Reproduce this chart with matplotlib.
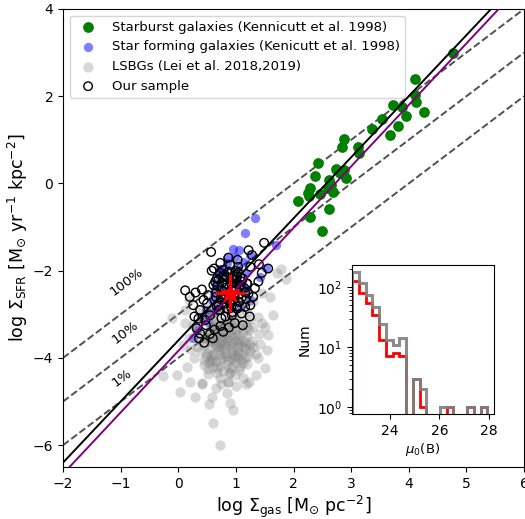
import numpy as np
import matplotlib.pyplot as plt

# --- starburst galaxies (Kennicutt 1998) ---
sb_x = [4.77, 4.11, 4.10, 4.13, 4.26, 3.95, 3.89, 3.73, 3.82, 3.67, 3.53, 3.36,
        2.87, 2.84, 3.12, 3.14, 2.42, 2.73, 2.87, 2.38, 2.91, 2.61, 2.65, 2.28,
        2.26, 2.27, 2.60, 2.68, 2.46, 2.07, 2.61, 2.29, 2.50, 2.80]
sb_y = [2.98, 2.40, 2.03, 1.87, 1.64, 1.55, 1.76, 1.80, 1.32, 1.11, 1.48, 1.24,
        1.01, 0.84, 0.83, 0.69, 0.48, 0.33, 0.32, 0.17, 0.12, 0.08, -0.04, -0.10,
        -0.21, -0.29, -0.11, -0.20, -0.25, -0.41, -0.58, -0.76, -1.10, 0.25]

# --- normal star forming galaxies ---
sf_x = [1.33, 1.15, 1.70, 1.52, 0.99, 1.06, 0.84, 0.73, 0.64, 0.58, 0.58, 0.52,
        0.26, 1.07, 1.25, 1.42, 1.13, 1.25, 0.90, 0.33, 0.95, 1.02, 0.80, 0.70,
        0.88, 1.10, 1.18, 0.62, 0.75, 0.92, 1.00, 0.68, 0.85, 1.20, 0.48, 0.40]
sf_y = [-0.80, -1.13, -1.41, -1.93, -1.68, -1.53, -1.83, -2.10, -2.29, -2.67, -2.98, -3.17,
        -3.55, -2.83, -2.67, -2.14, -1.80, -1.64, -2.29, -3.36, -1.50, -1.95, -2.00, -1.95,
        -2.15, -2.35, -2.05, -2.50, -2.40, -2.60, -2.20, -2.85, -1.70, -2.45, -2.90, -3.05]

# --- LSBGs (Lei et al. 2018, 2019) ---
lsb_x = [0.90, 0.61, 0.73, 0.29, -0.03, 0.20, 0.41, 0.44, 0.52, 0.75, 0.87, 0.89,
         1.23, 1.51, 1.39, 1.54, 1.56, 1.65, 1.78, 1.87, 1.72, 0.19, 0.12, 0.90,
         1.19, 1.04, 0.55, 1.42, 1.30, 1.51, 1.39, -0.26, 0.03, 0.53, 0.12, -0.11,
         0.55, 0.62, 0.70, 0.78, 0.85, 0.92, 1.00, 1.08, 1.15, 1.22,
         0.50, 0.60, 0.68, 0.75, 0.82, 0.90, 0.97, 1.05, 1.12, 1.20,
         0.45, 0.55, 0.65, 0.72, 0.80, 0.88, 0.95, 1.02, 1.10, 1.18,
         0.58, 0.66, 0.74, 0.84, 0.92, 1.00, 1.08, 0.48, 0.38, 0.35,
         0.42, 0.30, 0.62, 0.72, 0.95, 1.05, 1.25, 1.30, 1.28, 1.25,
         1.15, 0.78, 0.68, 0.60, 0.88, 0.98, 0.52, 0.45, 0.40, 0.33,
         0.86, 0.76, 0.94, 0.70, 0.64, 1.00, 1.06, 0.83, 0.56, 0.62,
         0.28, 0.22, 0.18, 0.25, 1.35, 1.40, 1.45, 1.20, 0.80, 0.50,
         0.90, 1.10, 0.70, 1.30, 1.45, 1.60, 0.35, 1.00, 0.15, 0.08,
         0.65, 0.85, 1.12, 0.95, 0.58, 1.35, 0.42, 1.18,
         0.52, 0.58, 0.66, 0.71, 0.77, 0.83, 0.89, 0.94, 1.01, 1.07, 1.13, 1.19,
         0.47, 0.54, 0.61, 0.69, 0.74, 0.81, 0.87, 0.93, 0.99, 1.04, 1.11, 1.16,
         0.50, 0.57, 0.63, 0.70, 0.76, 0.82, 0.91, 0.96, 1.03, 1.09, 1.14, 1.21,
         0.44, 0.53, 0.59, 0.67, 0.73, 0.79, 0.86, 0.93, 0.98, 1.06, 1.13, 1.24,
         0.60, 0.68, 0.75, 0.81, 0.89, 0.96, 1.04, 0.55, 0.72, 0.87]
lsb_y = [-5.04, -5.50, -6.00, -4.89, -4.39, -4.55, -4.57, -4.17, -4.36, -4.59, -4.55, -4.34,
         -4.55, -4.24, -4.01, -3.82, -3.48, -3.02, -1.97, -2.18, -2.06, -2.66, -3.21, -4.24,
         -4.13, -3.97, -4.05, -3.67, -3.75, -3.29, -3.06, -4.42, -4.78, -5.06, -2.90, -3.09,
         -3.00, -3.15, -3.30, -3.20, -3.10, -3.25, -3.15, -3.30, -3.20, -3.35,
         -3.40, -3.50, -3.45, -3.60, -3.50, -3.40, -3.55, -3.45, -3.60, -3.50,
         -3.70, -3.80, -3.75, -3.90, -3.80, -3.70, -3.85, -3.75, -3.90, -3.80,
         -4.00, -4.10, -4.05, -4.15, -4.00, -4.10, -4.20, -3.95, -3.60, -3.30,
         -3.15, -3.45, -2.95, -2.90, -2.95, -3.00, -3.10, -3.30, -3.60, -3.85,
         -4.00, -4.30, -4.35, -4.20, -4.35, -4.40, -4.25, -4.05, -3.85, -3.75,
         -3.30, -3.40, -3.65, -3.65, -3.30, -3.35, -3.65, -3.95, -3.60, -3.90,
         -4.00, -3.80, -3.55, -3.25, -3.90, -3.45, -3.20, -2.95, -2.80, -2.85,
         -2.60, -2.70, -2.60, -2.70, -2.50, -2.60, -2.90, -4.65, -4.20, -3.70,
         -4.70, -4.80, -4.45, -5.20, -4.90, -4.40, -4.60, -4.60,
         -3.05, -3.22, -3.12, -3.38, -3.27, -3.42, -3.18, -3.33, -3.47, -3.22, -3.40, -3.28,
         -3.55, -3.62, -3.58, -3.72, -3.52, -3.66, -3.58, -3.78, -3.62, -3.83, -3.70, -3.64,
         -3.88, -3.93, -3.68, -3.82, -3.98, -3.72, -3.92, -4.02, -3.88, -4.05, -3.74, -3.95,
         -3.50, -4.12, -4.08, -4.22, -4.18, -3.55, -4.05, -4.20, -3.96, -4.28, -4.12, -3.70,
         -3.35, -3.52, -3.72, -3.88, -3.48, -3.20, -3.58, -3.35, -4.45, -4.55]

# --- our sample ---
our_x = [0.57, 1.49, 1.22, 1.28, 0.73, 0.90, 1.39, 0.41, 0.44, 0.38, 0.32, 0.38,
         0.73, 0.75, 0.93, 1.10, 1.25, 1.22, 1.19, 1.25, 1.04, 0.52, 0.61, 0.67,
         0.84, 1.02, 1.07, 0.96, 0.81, 0.67, 0.55, 0.47, 0.70, 1.02, 1.16, 0.26,
         0.12, 0.20, 0.30, 0.35, 0.48, 0.60, 0.78, 0.88, 0.98, 1.12, 1.30, 1.45,
         0.85, 0.95, 0.75, 0.65, 1.05, 1.15, 0.90, 0.80, 1.00, 0.70, 0.58, 0.50,
         1.33, 1.40, 0.62, 0.86, 1.08, 0.94, 0.72, 0.82, 1.18, 0.45, 0.55, 0.99,
         1.10, 0.78, 0.66, 0.92, 1.24, 0.36, 0.28, 1.56, 0.87, 1.03, 0.63, 0.77,
         0.72, 0.80, 0.88, 0.96, 1.04, 1.12, 0.68, 0.76, 0.84, 0.92, 1.00, 1.08, 1.16,
         0.74, 0.82, 0.90, 0.98, 1.06, 0.70, 0.86, 0.94, 1.02, 0.78, 1.10, 0.64, 1.20]
our_y = [-1.57, -1.36, -1.53, -1.64, -1.82, -1.87, -2.25, -2.43, -2.67, -2.90, -3.32, -3.44,
         -3.27, -3.09, -3.02, -2.98, -2.79, -2.52, -2.29, -1.91, -1.91, -2.56, -2.33, -2.18,
         -2.14, -2.14, -2.37, -2.67, -2.75, -2.83, -3.02, -3.13, -2.90, -2.87, -2.83, -2.79,
         -2.45, -2.60, -2.50, -3.10, -3.25, -3.55, -3.40, -3.30, -3.20, -3.25, -2.60, -2.05,
         -2.30, -2.45, -2.45, -2.60, -2.55, -2.40, -2.75, -2.65, -2.30, -2.20, -2.00, -2.75,
         -2.40, -1.85, -1.95, -2.05, -2.15, -2.20, -2.90, -3.05, -2.65, -3.65, -3.45, -2.00,
         -2.25, -2.15, -2.50, -2.85, -3.05, -3.55, -3.05, -1.95, -1.70, -1.75, -3.35, -2.55,
         -2.05, -2.10, -2.02, -2.12, -2.04, -2.18, -2.35, -2.28, -2.38, -2.30, -2.42, -2.32, -2.50,
         -2.62, -2.55, -2.68, -2.58, -2.72, -2.80, -2.88, -2.95, -2.82, -1.98, -2.62, -2.25, -2.30]

# mean of our sample with errors
mean_x, mean_y = 0.90, -2.51
err_x, err_y = 0.26, 0.44

# Kennicutt law and fits
ks_slope, ks_icpt = 1.4, -3.6
fit_slope, fit_icpt = 1.41, -3.84
eff_labels = ['100%', '10%', '1%']
eff_icpt = [-2.0, -3.0, -4.0]   # log(SFE per 1e8 yr)
eff_text_x = [-0.89, -0.92, -0.98]
eff_text_y = [-2.26, -3.41, -4.46]

# inset histogram, mu_0(B)
mu_edges = np.linspace(22.48, 27.93, 21)
n_all = [180, 118, 73, 46, 24, 13, 11, 14, 0, 3, 2, 0, 0, 1, 1, 0, 0, 1, 0, 1]
n_sub = [124, 80, 55, 34, 13, 7, 8, 7, 0, 3, 1, 0, 0, 0, 1, 0, 0, 1, 0, 1]

fig = plt.figure(figsize=(5.25, 5.19), dpi=100)
ax = fig.add_axes([63/525, 1-467/519, 461/525, 458/519])

ax.scatter(sb_x, sb_y, s=45, color='green', label='Starburst galaxies (Kennicutt et al. 1998)', zorder=3)
ax.scatter(sf_x, sf_y, s=45, color='blue', alpha=0.5, lw=0,
           label='Star forming galaxies (Kenicutt et al. 1998)', zorder=3)
ax.scatter(lsb_x, lsb_y, s=55, color='gray', alpha=0.3, lw=0,
           label='LSBGs (Lei et al. 2018,2019)', zorder=3)
ax.scatter(our_x, our_y, s=38, facecolors='none', edgecolors='black', lw=1.0,
           label='Our sample', zorder=4)
ax.errorbar(mean_x, mean_y, xerr=err_x, yerr=err_y, fmt='*', color='red',
            ms=14, elinewidth=2.2, capsize=0, zorder=6)

xx = np.array([-2.0, 6.0])
for c, tx, ty, lab in zip(eff_icpt, eff_text_x, eff_text_y, eff_labels):
    ax.plot(xx, xx + c, '--', color='#505050', lw=1.4, zorder=2)
    ax.text(tx, ty, lab, rotation=37, ha='center', va='center', fontsize=9.5)
ax.plot(xx, ks_slope*xx + ks_icpt, color='black', lw=1.4, zorder=5)
ax.plot(xx, fit_slope*xx + fit_icpt, color='purple', lw=1.4, zorder=5)

ax.set_xlim(-2, 6)
ax.set_ylim(-6.5, 4)
ax.set_xticks(range(-2, 7))
ax.set_yticks(range(-6, 5, 2))
ax.tick_params(labelsize=10)
ax.set_xlabel(r'log $\Sigma_{\rm gas}$ [M$_{\odot}$ pc$^{-2}$]', fontsize=12.5, labelpad=2)
ax.set_ylabel(r'log $\Sigma_{\rm SFR}$ [M$_{\odot}$ yr$^{-1}$ kpc$^{-2}$]', fontsize=12.5, labelpad=2)
ax.legend(loc='upper left', fontsize=9.5, handletextpad=0.8, borderpad=0.4)

# inset
ins = fig.add_axes([352/525, 1-414/519, 142/525, 149/519])
centers = 0.5*(mu_edges[:-1] + mu_edges[1:])
ins.hist(centers, bins=mu_edges, weights=n_sub, histtype='step', color='red', lw=2, log=True)
ins.hist(centers, bins=mu_edges, weights=n_all, histtype='step', color='gray', lw=2.2,
         alpha=0.9, log=True)
ins.set_xlim(22.48, 28.2)
ins.set_xticks([24, 26, 28])
ins.tick_params(labelsize=10)
ins.set_xlabel(r'$\mu_0$(B)', fontsize=9.5, labelpad=2)
ins.set_ylabel('Num', fontsize=10)

fig.savefig('out.png', dpi=100)
